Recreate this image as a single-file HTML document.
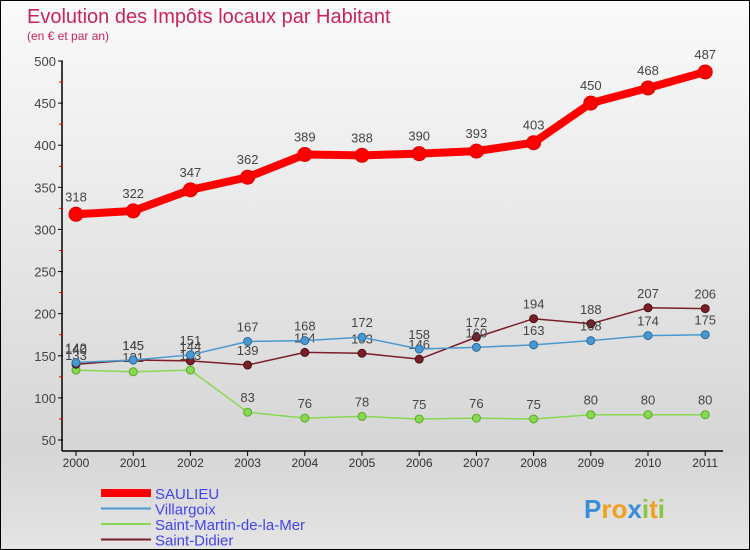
<!DOCTYPE html>
<html><head><meta charset="utf-8"><style>
body{margin:0}
#c{position:relative;width:748px;height:548px;border:1px solid #000;background:linear-gradient(#fafafa,#d6d6d6 82%,#e4e4e4);font-family:"Liberation Sans","DejaVu Sans",sans-serif;overflow:hidden}
</style></head><body>
<div id="c">
<svg id="s" width="748" height="548"></svg>
</div>
<script>
const years=["2000","2001","2002","2003","2004","2005","2006","2007","2008","2009","2010","2011"];
const yTicks=[50,100,150,200,250,300,350,400,450,500];
const saulieu=[318,322,347,362,389,388,390,393,403,450,468,487];
const villargoix=[142,145,151,167,168,172,158,160,163,168,174,175];
const saintMartin=[133,131,133,83,76,78,75,76,75,80,80,80];
const saintDidier=[140,145,144,139,154,153,146,172,194,188,207,206];
const NS="http://www.w3.org/2000/svg";
const s=document.getElementById('s');
function X(i){return 75+i*57.2;}
function Y(v){return 439-(v-50)*(379/450);}
function el(t,a,p){const e=document.createElementNS(NS,t);for(const k in a)e.setAttribute(k,a[k]);(p||s).appendChild(e);return e;}
function tx(x,y,str,a){const e=el('text',Object.assign({x:x,y:y},a));e.textContent=str;return e;}
let t=tx(26,22,"Evolution des Impôts locaux par Habitant",{fill:"#c8245e","font-size":"20"});

t=tx(26,39,"(en € et par an)",{fill:"#c8245e","font-size":"12"});

let a=el('line',{x1:61,y1:60,x2:61,y2:450,stroke:"#000","stroke-width":1.5});

a=el('line',{x1:61,y1:450,x2:722,y2:450,stroke:"#000","stroke-width":1.5});

yTicks.forEach(v=>{
 const y=Y(v);
 el('line',{x1:57,y1:y,x2:62,y2:y,stroke:"#000"});
 const l=tx(55,y+5,String(v),{"text-anchor":"end","font-size":"13",fill:"#444"});
 
 if(v<500){el('line',{x1:58,y1:Y(v+25),x2:62,y2:Y(v+25),stroke:"#e00"});}
});
years.forEach((yr,i)=>{
 el('line',{x1:X(i),y1:450,x2:X(i),y2:455,stroke:"#000"});
 const l=tx(X(i),466,yr,{"text-anchor":"middle","font-size":"12",fill:"#333"});
 
});
function series(d,col,w,r,name,dark){
 const g=el('g',{});
 
 el('polyline',{points:d.map((v,i)=>X(i)+","+Y(v)).join(" "),fill:"none",stroke:col,"stroke-width":w,"stroke-linejoin":"round"},g);
 d.forEach((v,i)=>{
  const c=el('circle',{cx:X(i),cy:Y(v),r:r,fill:col,stroke:dark,"stroke-width":1},g);
  
  const l=tx(X(i),Y(v)-(r+6),String(v),{"text-anchor":"middle","font-size":"13",fill:"#444"},g);
  
 });
}
series(saintMartin,"#88d851",1.5,4,"series-saint-martin","#5aa82a");
series(saintDidier,"#7a1f28",1.5,4,"series-saint-didier","#4a0f15");
series(villargoix,"#4a98d0",1.5,4,"series-villargoix","#2a6aa0");
series(saulieu,"#f00",8,7,"series-saulieu","#d00");
const leg=[["SAULIEU","#f00",8],["Villargoix","#4a98d0",2],["Saint-Martin-de-la-Mer","#88d851",2],["Saint-Didier","#7a1f28",2]];
leg.forEach((L,i)=>{
 const y=492+i*15.5;
 const g=el('g',{});
 
 el('line',{x1:100,y1:y,x2:150,y2:y,stroke:L[1],"stroke-width":L[2]},g);
 tx(154,y+6,L[0],{"font-size":"15",fill:"#4444ee"},g);
});
const p=tx(583,517,"",{"font-size":"26","font-weight":"bold"});

[["P","#3a8ed8"],["r","#f0a020"],["o","#f0a020"],["x","#3a8ed8"],["i","#88c840"],["t","#f0a020"],["i","#88c840"]].forEach(c=>{const ts=el('tspan',{fill:c[1]},p);ts.textContent=c[0];});
</script>
</body></html>
